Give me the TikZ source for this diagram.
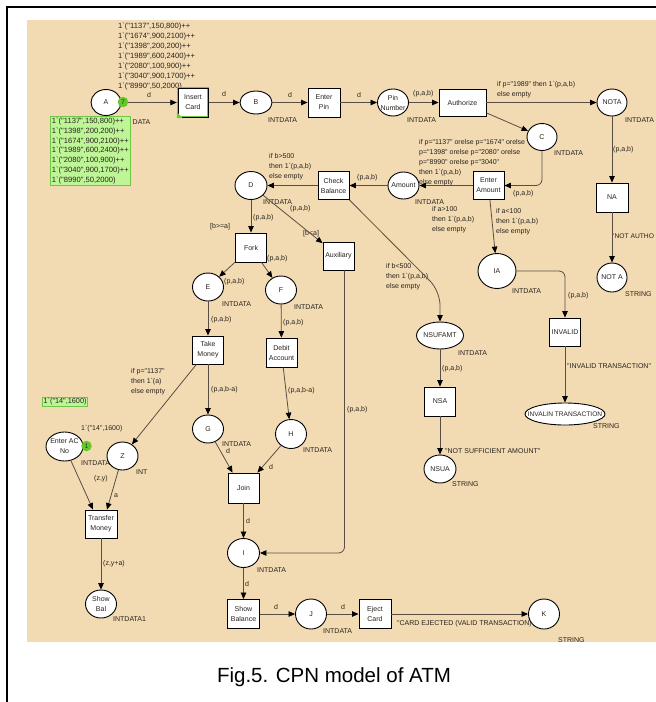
\documentclass[tikz,border=0pt]{standalone}
\usepackage{fontspec}
\setmainfont{Liberation Sans}[Ligatures=TeXOff]
\usetikzlibrary{arrows.meta,shapes.geometric}
\definecolor{beige}{RGB}{242,219,178}
\definecolor{arccol}{RGB}{88,78,68}
\definecolor{txt}{RGB}{40,35,30}
\definecolor{tokgreen}{RGB}{100,200,40}
\definecolor{boxgreen}{RGB}{190,245,150}
\definecolor{boxbd}{RGB}{110,200,70}
\pgfdeclarelayer{bg}\pgfdeclarelayer{lab}\pgfsetlayers{bg,lab,main}
\tikzset{
  ntxt/.style={font=\fontsize{7}{10}\selectfont, text=txt, align=center, inner sep=0pt},
  pl/.style n args={3}{ellipse, draw=black, fill=white, line width=0.9pt, inner sep=0pt,
      minimum width=#1, minimum height=#2, label={[ntxt]center:{#3}}},
  tr/.style n args={3}{rectangle, draw=black, fill=white, line width=0.9pt, inner sep=0pt,
      minimum width=#1, minimum height=#2, label={[ntxt]center:{#3}}},
  arcst/.style={draw=arccol, line width=0.8pt, -{Triangle[length=6.5pt,width=5.5pt,color=black]}},
  lb/.style={font=\fontsize{7}{10}\selectfont, text=txt, inner sep=0pt, align=left},
  tok/.style={circle, fill=tokgreen, inner sep=0pt, minimum size=10.5pt, font=\fontsize{6.8}{8}\selectfont, text=black!80},
  markbox/.style={fill=boxgreen, draw=boxbd, line width=0.8pt, inner sep=1.5pt, align=left, font=\fontsize{7.6}{9.8}\selectfont, text=txt}
}
\begin{document}
\begin{tikzpicture}[x=1pt,y=-1pt]
\useasboundingbox (0,0) rectangle (656,702);
\begin{pgfonlayer}{bg}
\fill[white] (0,0) rectangle (656,702);
\fill[beige] (27,20) rectangle (656,642);
\draw[black, line width=2pt] (7,702) -- (7,7) -- (656,7);
\end{pgfonlayer}

% places
\node[pl={30}{26}{A}] (A) at (106,102.5) {};
\node[pl={32}{23}{B}] (B) at (256,102.5) {};
\node[pl={31}{27}{Pin\\Number}] (PN) at (393,102.5) {};
\node[pl={30}{27}{NOTA}] (NOTA) at (612,102.5) {};
\node[pl={30}{27}{C}] (C) at (542,137) {};
\node[pl={31}{27}{Amount}] (Amount) at (403.5,185.5) {};
\node[pl={32}{28}{D}] (D) at (251,185.5) {};
\node[pl={31}{28}{E}] (E) at (208,287) {};
\node[pl={31}{28}{F}] (F) at (281,290) {};
\node[pl={31}{28}{G}] (G) at (208,429) {};
\node[pl={31}{29}{H}] (H) at (291,434) {};
\node[pl={32}{29}{I}] (I) at (243.5,553) {};
\node[pl={31}{30}{J}] (J) at (311,614) {};
\node[pl={31}{30}{K}] (K) at (544,614) {};
\node[pl={38}{35}{IA}] (IA) at (497,271) {};
\node[pl={30}{29}{NOT A}] (NOTA2) at (612,277.5) {};
\node[pl={80}{22}{\fontsize{6.6}{8}\selectfont INVALIN TRANSACTION}] (INVT) at (565,414) {};
\node[pl={47}{27}{NSUFAMT}] (NSUFAMT) at (440,335.5) {};
\node[pl={32}{28}{NSUA}] (NSUA) at (440,469) {};
\node[pl={37}{29}{Enter AC\\No}] (EAC) at (64.5,446.5) {};
\node[pl={31}{28}{Z}] (Z) at (122.5,456) {};
\node[pl={31}{28}{Show\\Bal}] (SB) at (101,604) {};

% transitions
\node[tr={30}{29}{Insert\\Card}, draw=boxbd, line width=2.4pt] (IC) at (193,102.5) {};
\draw[black, line width=0.6pt] ([shift={(1.3,1.3)}]IC.north west) rectangle ([shift={(-1.3,-1.3)}]IC.south east);
\fill[boxbd] (IC.south west) -- ++(6,0) -- ++(-6,-6) -- cycle;
\node[tr={32}{29}{Enter\\Pin}] (EP) at (324,102.5) {};
\node[tr={47}{27}{Authorize}] (Auth) at (462.5,102.5) {};
\node[tr={32}{29}{NA}] (NA) at (612,197.5) {};
\node[tr={31}{28}{Enter\\Amount}] (EA) at (488.5,185.5) {};
\node[tr={31}{28}{Check\\Balance}] (CB) at (333.5,185.5) {};
\node[tr={31}{29}{Fork}] (Fork) at (251,247.5) {};
\node[tr={31}{28}{Auxiliary}] (Aux) at (338.5,256) {};
\node[tr={31}{28}{Take\\Money}] (TM) at (208,350) {};
\node[tr={31}{29}{Debit\\Account}] (DA) at (281.5,352.5) {};
\node[tr={31}{30}{Join}] (Join) at (243.5,488) {};
\node[tr={31}{28}{INVALID}] (INVALID) at (565,332) {};
\node[tr={31}{29}{NSA}] (NSA) at (440,401.5) {};
\node[tr={32}{28}{Transfer\\Money}] (TrM) at (101,524) {};
\node[tr={32}{29}{Show\\Balance}] (ShB) at (243.5,614) {};
\node[tr={32}{29}{Eject\\Card}] (EC) at (375,614) {};

% arcs
\draw[arcst] (A.east) -- (IC.west);
\draw[arcst] (IC) -- (B);
\draw[arcst] (B) -- (EP);
\draw[arcst] (EP) -- (PN);
\draw[arcst] (PN) -- (Auth);
\draw[arcst] (Auth) -- (NOTA);
\draw[arcst] (Auth) -- (C);
\draw[arcst, rounded corners=6pt] (C.south) |- (EA.east);
\draw[arcst] (EA) -- (Amount);
\draw[arcst] (Amount) -- (CB);
\draw[arcst] (CB) -- (D);
\draw[arcst] (D) -- (Fork);
\draw[arcst] (D) -- (Aux);
\draw[arcst, rounded corners=14pt] (CB.south east) -- (440,291) -- (NSUFAMT.north);
\draw[arcst] (EA) -- (IA);
\draw[arcst] (NOTA) -- (NA);
\draw[arcst] (NA) -- (NOTA2);
\draw[arcst, rounded corners=6pt] (IA.east) -| (INVALID.north);
\draw[arcst] (INVALID) -- (INVT);
\draw[arcst] (NSUFAMT) -- (NSA);
\draw[arcst] (NSA) -- (NSUA);
\draw[arcst] (Fork) -- (E);
\draw[arcst] (Fork) -- (F);
\draw[arcst] (E) -- (TM);
\draw[arcst] (F) -- (DA);
\draw[arcst] (TM) -- (G);
\draw[arcst] (TM) -- (Z);
\draw[arcst] (DA) -- (H);
\draw[arcst, rounded corners=6pt] ([xshift=6pt]Aux.south) |- (I.east);
\draw[arcst] (G) -- ([xshift=5pt]Join.north west);
\draw[arcst] (H) -- ([xshift=-2pt]Join.north east);
\draw[arcst] (Join) -- (I);
\draw[arcst] (I) -- (ShB);
\draw[arcst] (ShB) -- (J);
\draw[arcst] (J) -- (EC);
\draw[arcst] (EC) -- (K);
\draw[arcst] (EAC) -- ([xshift=-8pt]TrM.north);
\draw[arcst] (Z) -- ([xshift=6pt]TrM.north);
\draw[arcst] (TrM) -- (SB);

% tokens and markings
\node[tok] (tokA) at (123,102) {7};
\node[tok] (tokEAC) at (86.5,446) {1};
\node[markbox, anchor=north west] (mkA) at (50,116) {1`("1137",150,800)++\\1`("1398",200,200)++\\1`("1674",900,2100)++\\1`("1989",600,2400)++\\1`("2080",100,900)++\\1`("3040",900,1700)++\\1`("8990",50,2000)};
\node[markbox, anchor=north west, inner sep=1.2pt, font=\fontsize{7.3}{9}\selectfont] (mkEAC) at (42,397) {1`("14",1600)};

\begin{pgfonlayer}{lab}
\node[lb, anchor=north west, font=\fontsize{7.6}{10}\selectfont] (iniA) at (118,23) {1`("1137",150,800)++\\1`("1674",900,2100)++\\1`("1398",200,200)++\\1`("1989",600,2400)++\\1`("2080",100,900)++\\1`("3040",900,1700)++\\1`("8990",50,2000)};
\node[lb, anchor=west] (tA) at (132.5,122) {DATA};
\node[lb] (l1) at (149,95) {d};
\node[lb] (l2) at (224,94) {d};
\node[lb, anchor=west] (tB) at (268,120) {INTDATA};
\node[lb] (l3) at (290,95) {d};
\node[lb] (l4) at (359,95) {d};
\node[lb, anchor=west] (tPN) at (407,120) {INTDATA};
\node[lb, anchor=west] (l5) at (413,93.5) {(p,a,b)};
\node[lb, anchor=north west] (l6) at (497,81) {if p="1989" then 1`(p,a,b)\\else empty};
\node[lb, anchor=west] (tNOTA) at (625,120) {INTDATA};
\node[lb, anchor=west] (tC) at (554,153) {INTDATA};
\node[lb, anchor=north west] (l7) at (419,139.5) {if p="1137" orelse p="1674" orelse\\p="1398" orelse p="2080" orelse\\p="8990" orelse p="3040"\\then 1`(p,a,b)\\else empty};
\node[lb, anchor=west] (l8) at (513,193.5) {(p,a,b)};
\node[lb, anchor=west] (tAm) at (415,202) {INTDATA};
\node[lb, anchor=north west] (l9) at (432,206.5) {if a>100\\then 1`(p,a,b)\\else empty};
\node[lb, anchor=north west] (l10) at (496,208.5) {if a<100\\then 1`(p,a,b)\\else empty};
\node[lb, anchor=west] (l11) at (613,149.5) {(p,a,b)};
\node[lb, anchor=west, font=\fontsize{6.7}{9}\selectfont] (l12) at (612,236) {"NOT AUTHO};
\node[lb, anchor=west] (tNOTA2) at (625,294) {STRING};
\node[lb, anchor=west] (l13) at (357,178) {(p,a,b)};
\node[lb, anchor=north west] (l14) at (269,153.5) {if b>500\\then 1`(p,a,b)\\else empty};
\node[lb, anchor=west] (tD) at (263,202) {INTDATA};
\node[lb, anchor=west] (l15) at (253,217.5) {(p,a,b)};
\node[lb, anchor=west] (g1) at (210,226.5) {[b>=a]};
\node[lb, anchor=west] (l16) at (290,208.5) {(p,a,b)};
\node[lb, anchor=west] (g2) at (303,233.5) {[b<a]};
\node[lb, anchor=west] (l17) at (224,281.5) {(p,a,b)};
\node[lb, anchor=west] (l18) at (267,259) {(p,a,b)};
\node[lb, anchor=west] (tE) at (222,304) {INTDATA};
\node[lb, anchor=west] (tF) at (294,307) {INTDATA};
\node[lb, anchor=west] (l19) at (211,319.5) {(p,a,b)};
\node[lb, anchor=west] (l20) at (283,322.5) {(p,a,b)};
\node[lb, anchor=north west] (l21) at (386,263.5) {if b<500\\then 1`(p,a,b)\\else empty};
\node[lb, anchor=west] (tIA) at (512,291) {INTDATA};
\node[lb, anchor=west] (l22) at (568,295.5) {(p,a,b)};
\node[lb, anchor=west] (l23) at (567,366) {"INVALID TRANSACTION"};
\node[lb, anchor=west] (tINVT) at (593,426) {STRING};
\node[lb, anchor=west] (tNS) at (458,353) {INTDATA};
\node[lb, anchor=west] (l24) at (442,368.5) {(p,a,b)};
\node[lb, anchor=west] (l25) at (445,451) {"NOT SUFFICIENT AMOUNT"};
\node[lb, anchor=west] (tNSUA) at (452,484) {STRING};
\node[lb, anchor=north west] (l26) at (131,368.5) {if p="1137"\\then 1`(a)\\else empty};
\node[lb, anchor=west] (l27) at (211,389.5) {(p,a,b-a)};
\node[lb, anchor=west] (l28) at (288,390.5) {(p,a,b-a)};
\node[lb, anchor=west] (l29) at (347,409.5) {(p,a,b)};
\node[lb, anchor=west] (tG) at (222,444) {INTDATA};
\node[lb, anchor=west] (tH) at (303,450) {INTDATA};
\node[lb] (l30) at (228,451) {d};
\node[lb] (l31) at (271,467) {d};
\node[lb] (l32) at (248,521) {d};
\node[lb, anchor=west] (tI) at (257,570) {INTDATA};
\node[lb] (l33) at (247,584) {d};
\node[lb] (l34) at (276,607) {d};
\node[lb, anchor=west] (tJ) at (323,631) {INTDATA};
\node[lb] (l35) at (343,607) {d};
\node[lb, anchor=west] (l36) at (397,624) {"CARD EJECTED (VALID TRANSACTION)"};
\node[lb, anchor=west] (tK) at (558,640) {STRING};
\node[lb, anchor=west] (l37) at (81,428.5) {1`("14",1600)};
\node[lb, anchor=west] (tEAC) at (81,463) {INTDATA1};
\node[lb, anchor=west] (tZ) at (136,472) {INT};
\node[lb, anchor=west] (l38) at (94,478.5) {(z,y)};
\node[lb, anchor=west] (l39) at (114,496) {a};
\node[lb, anchor=west] (l40) at (103,563.5) {(z,y+a)};
\node[lb, anchor=west] (tSB) at (113,619) {INTDATA1};
\end{pgfonlayer}

\node[font=\fontsize{20.5}{24}\selectfont, text=black, inner sep=0pt] (cap) at (334,677) {Fig.5. CPN model of ATM};
\end{tikzpicture}
\end{document}
